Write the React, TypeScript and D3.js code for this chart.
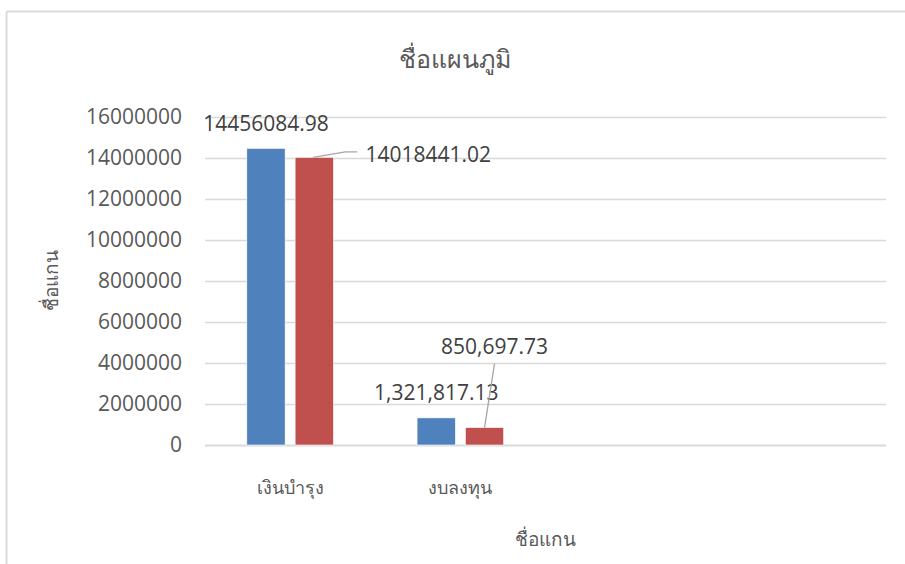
import React from 'react';
import * as d3 from 'd3';

// chart values
const categories = ['เงินบำรุง', 'งบลงทุน', '', ''];
const seriesA = [14456084.98, 1321817.13];
const seriesB = [14018441.02, 850697.73];
const yTicks = [0, 2000000, 4000000, 6000000, 8000000, 10000000, 12000000, 14000000, 16000000];
const labelFormats = ['.2f', ',.2f'];

const W = 905;
const H = 564;
const plot = { left: 205, right: 886, top: 116.7, bottom: 445 };
const colors = ['#4f81bd', '#c0504d'];
const font = "'Open Sans', 'Noto Sans', sans-serif";

// hand-placed label positions relative to bar centre / top (like Excel's moved labels)
const labelPos = [
  [{ dx: 0, dy: -17, leader: false }, { dx: 114, dy: 5, leader: true }],
  [{ dx: 0, dy: -18, leader: false }, { dx: 10, dy: -74, leader: true }],
];

export default function App() {
  const x = d3.scaleBand<number>().domain(categories.map((_, i) => i)).range([plot.left, plot.right]);
  const y = d3.scaleLinear().domain([0, 16000000]).range([plot.bottom, plot.top]);
  const inner = d3.scaleBand<number>().domain([0, 1]).range([-43.3, 43.3]).paddingInner(0.207);
  const fmtTick = d3.format('d');

  const series = [seriesA, seriesB];

  return (
    <svg width={W} height={H} style={{ position: 'absolute', left: 0, top: 0 }} fontFamily={font}>
      <rect x={0} y={0} width={W} height={H} fill="#fff" />
      {/* chart area border (top and left visible) */}
      <line x1={6.5} x2={W} y1={11.5} y2={11.5} stroke="#d9d9d9" strokeWidth={2} />
      <line x1={6.5} x2={6.5} y1={11.5} y2={H} stroke="#d9d9d9" strokeWidth={2} />

      <text x={455} y={68} textAnchor="middle" fontSize={25} fontWeight={300} fill="#595959">ชื่อแผนภูมิ</text>

      {/* gridlines + tick labels */}
      {yTicks.map((t) => (
        <g key={t}>
          <line x1={plot.left} x2={plot.right} y1={Math.round(y(t)) + 0.5} y2={Math.round(y(t)) + 0.5}
            stroke="#d9d9d9" strokeWidth={t === 0 ? 2 : 1.3} />
          <text x={182} y={y(t)} dy="0.35em" textAnchor="end" fontSize={21} fill="#595959">{fmtTick(t)}</text>
        </g>
      ))}

      {/* bars */}
      {series.map((vals, s) =>
        vals.map((v, i) => (
          <rect key={`${s}-${i}`} x={(x(i) ?? 0) + x.bandwidth() / 2 + (inner(s) ?? 0)} y={y(v)}
            width={inner.bandwidth()} height={y(0) - y(v)} fill={colors[s]} stroke="#fff" strokeWidth={0.6} />
        ))
      )}

      {/* data labels */}
      {series.map((vals, s) =>
        vals.map((v, i) => {
          const cx = (x(i) ?? 0) + x.bandwidth() / 2 + (inner(s) ?? 0) + inner.bandwidth() / 2;
          const top = y(v);
          const p = labelPos[i][s];
          const lx = cx + p.dx;
          const ly = top + p.dy;
          const label = d3.format(labelFormats[i])(v);
          let leader = null;
          if (p.leader && i === 0) {
            leader = <polyline points={`${cx - 1},${top} ${cx + 31},${top - 5.5} ${cx + 43},${top - 5.5}`}
              fill="none" stroke="#a6a6a6" strokeWidth={1.3} />;
          } else if (p.leader) {
            leader = <line x1={cx} y1={top} x2={lx} y2={ly + 10} stroke="#a6a6a6" strokeWidth={1.3} />;
          }
          return (
            <g key={`l-${s}-${i}`}>
              {leader}
              <text x={lx} y={ly} textAnchor="middle" fontSize={21} fill="#404040">{label}</text>
            </g>
          );
        })
      )}

      {/* category labels */}
      {categories.map((c, i) => (
        <text key={i} x={(x(i) ?? 0) + x.bandwidth() / 2} y={494} textAnchor="middle" fontSize={18}
          fontWeight={300} fill="#595959">{c}</text>
      ))}

      <text x={(plot.left + plot.right) / 2} y={546} textAnchor="middle" fontSize={19} fontWeight={300}
        fill="#595959">ชื่อแกน</text>
      <text transform={`translate(58,${(plot.top + plot.bottom) / 2}) rotate(-90)`} textAnchor="middle"
        fontSize={19} fontWeight={300} fill="#595959">ชื่อแกน</text>
    </svg>
  );
}
